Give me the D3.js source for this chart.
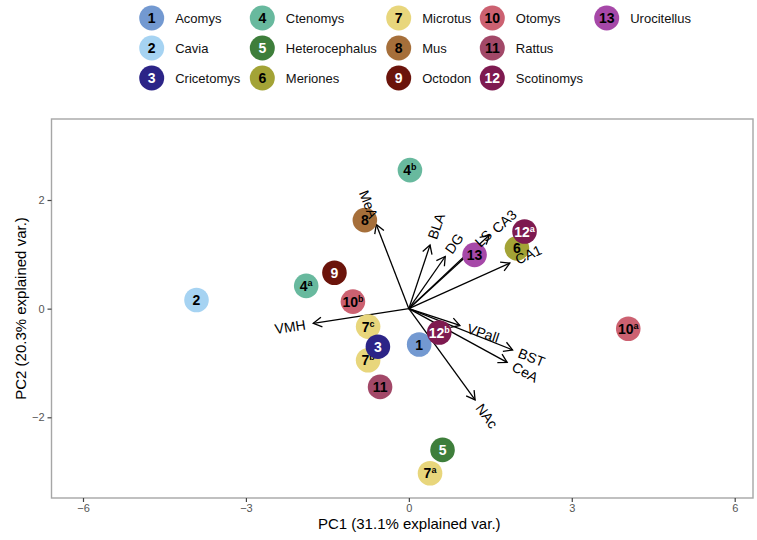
<!DOCTYPE html>
<html>
<head>
<meta charset="utf-8">
<script src="https://cdn.jsdelivr.net/npm/d3@7"></script>
<style>
  body { margin: 0; background: #fff; }
  svg { font-family: "Liberation Sans", Arial, Helvetica, sans-serif; }
</style>
</head>
<body>
<svg id="chart" width="757" height="540"></svg>
<script>
// Genera (legend entries)
const genusIds    = [1, 2, 3, 4, 5, 6, 7, 8, 9, 10, 11, 12, 13];
const genusNames  = ["Acomys", "Cavia", "Cricetomys", "Ctenomys", "Heterocephalus", "Meriones",
                     "Microtus", "Mus", "Octodon", "Otomys", "Rattus", "Scotinomys", "Urocitellus"];
const genusColors = ["#7399d1", "#a6d3f2", "#2c2487", "#68b99e", "#3e7e3b", "#a3a336",
                     "#e8d67c", "#a66f3a", "#6b140b", "#cc6171", "#a24868", "#7e1a50", "#a648a8"];
const genusInk    = ["#000", "#000", "#fff", "#000", "#fff", "#000",
                     "#000", "#000", "#fff", "#000", "#000", "#fff", "#000"];

// PCA scores (drawing order), genus id and sample suffix
const pointGenus  = [2, 4, 9, 4, 8, 10, 7, 7, 3, 11, 1, 12, 13, 6, 12, 10, 5, 7];
const pointSuffix = ["", "a", "", "b", "", "b", "c", "b", "", "", "", "b", "", "", "a", "a", "", "a"];
const pointPC1    = [-3.91, -1.89, -1.37, 0.02, -0.81, -1.03, -0.75, -0.75, -0.57, -0.53, 0.19, 0.56, 1.21, 1.99, 2.13, 4.04, 0.62, 0.39];
const pointPC2    = [0.16, 0.42, 0.66, 2.55, 1.63, 0.13, -0.33, -0.95, -0.70, -1.44, -0.66, -0.44, 0.99, 1.11, 1.42, -0.37, -2.60, -3.03];

// Variable loadings (arrows)
const varNames = ["MeA", "BLA", "DG", "LS", "CA3", "CA1", "VPall", "BST", "CeA", "NAc", "VMH"];
const varPC1   = [-0.60, 0.39, 0.67, 1.20, 1.48, 1.86, 0.94, 1.91, 1.81, 1.22, -1.76];
const varPC2   = [1.55, 1.17, 0.96, 1.13, 1.35, 0.84, -0.31, -0.76, -0.99, -1.68, -0.27];

const xTicks = [-6, -3, 0, 3, 6];
const yTicks = [-2, 0, 2];

const svg = d3.select("#chart");

const panel = { left: 51.5, right: 753, top: 119, bottom: 498 };
const x = d3.scaleLinear().domain([-6, 6]).range([83, 734.7]);
const y = d3.scaleLinear().domain([-2, 2]).range([417.3, 200]);

// Arrowhead marker (open chevron)
svg.append("defs").append("marker")
  .attr("id", "head")
  .attr("viewBox", "-10 -6 12 12")
  .attr("refX", 0).attr("refY", 0)
  .attr("markerWidth", 12).attr("markerHeight", 12)
  .attr("markerUnits", "userSpaceOnUse")
  .attr("orient", "auto")
  .append("path")
  .attr("d", "M-8.5,-4.9 L0,0 L-8.5,4.9")
  .attr("fill", "none").attr("stroke", "#000").attr("stroke-width", 1.3);

// Panel border
svg.append("rect")
  .attr("x", panel.left).attr("y", panel.top)
  .attr("width", panel.right - panel.left).attr("height", panel.bottom - panel.top)
  .attr("fill", "none").attr("stroke", "#a6a6a6").attr("stroke-width", 1.4);

// X axis
const xAxis = svg.append("g").attr("transform", `translate(0,${panel.bottom})`)
  .call(d3.axisBottom(x).tickValues(xTicks).tickSize(4).tickPadding(2).tickFormat(d3.format("d")));
xAxis.select(".domain").remove();
xAxis.selectAll("line").attr("stroke", "#444").attr("stroke-width", 1.2);
xAxis.selectAll("text").attr("fill", "#555").style("font-size", "11px");

// Y axis
const yAxis = svg.append("g").attr("transform", `translate(${panel.left},0)`)
  .call(d3.axisLeft(y).tickValues(yTicks).tickSize(4).tickPadding(3).tickFormat(d3.format("d")));
yAxis.select(".domain").remove();
yAxis.selectAll("line").attr("stroke", "#444").attr("stroke-width", 1.2);
yAxis.selectAll("text").attr("fill", "#555").style("font-size", "11px");

// Axis titles
svg.append("text")
  .attr("x", (panel.left + panel.right) / 2 + 7).attr("y", 529)
  .attr("text-anchor", "middle").style("font-size", "15px").attr("fill", "#000")
  .text("PC1 (31.1% explained var.)");
svg.append("text")
  .attr("transform", `translate(21,${(panel.top + panel.bottom) / 2}) rotate(-90)`)
  .attr("text-anchor", "middle").attr("dy", "0.35em")
  .style("font-size", "15px").attr("fill", "#000")
  .text("PC2 (20.3% explained var.)");

// Loading arrows
const vars = varNames.map((n, i) => ({ name: n, px: varPC1[i], py: varPC2[i] }));
svg.append("g").selectAll("line").data(vars).join("line")
  .attr("x1", x(0)).attr("y1", y(0))
  .attr("x2", d => x(d.px)).attr("y2", d => y(d.py))
  .attr("stroke", "#000").attr("stroke-width", 1.3)
  .attr("marker-end", "url(#head)");

// Sample points
const pts = pointGenus.map((g, i) => ({ g, suf: pointSuffix[i], px: pointPC1[i], py: pointPC2[i] }));
const pg = svg.append("g").selectAll("g").data(pts).join("g")
  .attr("transform", d => `translate(${x(d.px)},${y(d.py)})`);
pg.append("circle").attr("r", 12.3).attr("fill", d => genusColors[d.g - 1]);
const pt = pg.append("text")
  .attr("text-anchor", "middle").attr("dy", "0.36em")
  .attr("fill", d => genusInk[d.g - 1])
  .style("font-size", "14px").style("font-weight", "bold");
pt.append("tspan").text(d => d.g);
pt.append("tspan")
  .attr("dy", "-0.55em").style("font-size", "9px")
  .text(d => d.suf);

// Variable names along the arrow direction, offset past the tip
svg.append("g").selectAll("text").data(vars).join("text")
  .style("font-size", "14px").attr("fill", "#000")
  .attr("dy", "0.35em")
  .text(d => d.name)
  .each(function (d) {
    const el = d3.select(this);
    const w = this.getComputedTextLength();
    const ang = Math.atan(d.py / d.px) * 180 / Math.PI;
    const sgn = Math.sign(d.px);
    el.attr("text-anchor", sgn > 0 ? "start" : "end")
      .attr("dx", sgn * 0.25 * w)
      .attr("transform", `translate(${x(d.px)},${y(d.py)}) rotate(${-ang})`);
  });

// Legend
const legend = svg.append("g");
const colX = [151.7, 262.3, 398.7, 492.3, 606.7];
const rowY = [18, 48, 78];
genusIds.forEach((id, i) => {
  const cx = colX[Math.floor(i / 3)], cy = rowY[i % 3];
  const g = legend.append("g").attr("transform", `translate(${cx},${cy})`);
  g.append("circle").attr("r", 12.5).attr("fill", genusColors[i]);
  g.append("text").attr("text-anchor", "middle").attr("dy", "0.36em")
    .attr("fill", genusInk[i]).style("font-size", "14px").style("font-weight", "bold")
    .text(id);
  g.append("text").attr("x", 23.5).attr("dy", "0.36em")
    .attr("fill", "#111").style("font-size", "13px")
    .text(genusNames[i]);
});
</script>
</body>
</html>
